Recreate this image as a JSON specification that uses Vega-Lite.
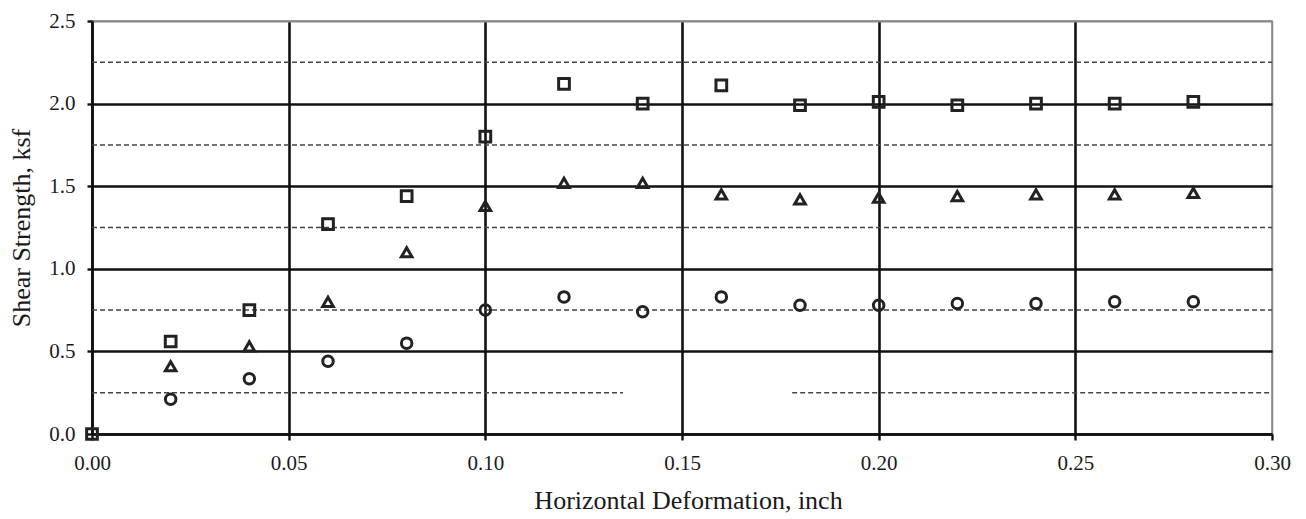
{
  "$schema": "https://vega.github.io/schema/vega-lite/v6.json",
  "width": 1180,
  "height": 413,
  "autosize": "none",
  "padding": {"left": 92, "top": 21, "right": 34, "bottom": 85},
  "background": "white",
  "config": {
    "view": {"stroke": "#888", "strokeWidth": 1.5},
    "font": "Liberation Serif"
  },
  "datasets": {
    "points": [
      {"series": "A", "x": 0.00, "y": 0.00},
      {"series": "A", "x": 0.02, "y": 0.56},
      {"series": "A", "x": 0.04, "y": 0.75},
      {"series": "A", "x": 0.06, "y": 1.27},
      {"series": "A", "x": 0.08, "y": 1.44},
      {"series": "A", "x": 0.10, "y": 1.80},
      {"series": "A", "x": 0.12, "y": 2.12},
      {"series": "A", "x": 0.14, "y": 2.00},
      {"series": "A", "x": 0.16, "y": 2.11},
      {"series": "A", "x": 0.18, "y": 1.99},
      {"series": "A", "x": 0.20, "y": 2.01},
      {"series": "A", "x": 0.22, "y": 1.99},
      {"series": "A", "x": 0.24, "y": 2.00},
      {"series": "A", "x": 0.26, "y": 2.00},
      {"series": "A", "x": 0.28, "y": 2.01},
      {"series": "B", "x": 0.02, "y": 0.41},
      {"series": "B", "x": 0.04, "y": 0.53},
      {"series": "B", "x": 0.06, "y": 0.80},
      {"series": "B", "x": 0.08, "y": 1.10},
      {"series": "B", "x": 0.10, "y": 1.38},
      {"series": "B", "x": 0.12, "y": 1.52},
      {"series": "B", "x": 0.14, "y": 1.52},
      {"series": "B", "x": 0.16, "y": 1.45},
      {"series": "B", "x": 0.18, "y": 1.42},
      {"series": "B", "x": 0.20, "y": 1.43},
      {"series": "B", "x": 0.22, "y": 1.44},
      {"series": "B", "x": 0.24, "y": 1.45},
      {"series": "B", "x": 0.26, "y": 1.45},
      {"series": "B", "x": 0.28, "y": 1.46},
      {"series": "C", "x": 0.02, "y": 0.21},
      {"series": "C", "x": 0.04, "y": 0.335},
      {"series": "C", "x": 0.06, "y": 0.44},
      {"series": "C", "x": 0.08, "y": 0.55},
      {"series": "C", "x": 0.10, "y": 0.75},
      {"series": "C", "x": 0.12, "y": 0.83},
      {"series": "C", "x": 0.14, "y": 0.74},
      {"series": "C", "x": 0.16, "y": 0.83},
      {"series": "C", "x": 0.18, "y": 0.78},
      {"series": "C", "x": 0.20, "y": 0.78},
      {"series": "C", "x": 0.22, "y": 0.79},
      {"series": "C", "x": 0.24, "y": 0.79},
      {"series": "C", "x": 0.26, "y": 0.80},
      {"series": "C", "x": 0.28, "y": 0.80}
    ],
    "minor": [
      {"y": 0.25, "x": 0, "xe": 0.135},
      {"y": 0.25, "x": 0.178, "xe": 0.3},
      {"y": 0.75, "x": 0, "xe": 0.3},
      {"y": 1.25, "x": 0, "xe": 0.3},
      {"y": 1.75, "x": 0, "xe": 0.3},
      {"y": 2.25, "x": 0, "xe": 0.3}
    ]
  },
  "encoding": {
    "x": {
      "field": "x",
      "type": "quantitative",
      "scale": {"domain": [0, 0.3], "nice": false, "zero": false},
      "axis": {
        "values": [0, 0.05, 0.1, 0.15, 0.2, 0.25, 0.3],
        "format": ".2f",
        "labelFlush": false,
        "grid": true,
        "gridColor": {"condition": {"test": "datum.value >= 0.299", "value": "#888"}, "value": "#111"},
        "gridWidth": {"condition": {"test": "datum.value >= 0.299", "value": 1.5}, "value": 2.6},
        "gridOpacity": 1,
        "domainColor": "#111",
        "domainWidth": 2.6,
        "tickColor": "#111",
        "tickWidth": 2.4,
        "tickSize": 6,
        "labelFont": "Liberation Serif",
        "labelFontSize": 21,
        "labelColor": "#1a1a1a",
        "labelPadding": 12,
        "title": "Horizontal Deformation, inch",
        "titleFont": "Liberation Serif",
        "titleFontSize": 26,
        "titleFontWeight": "normal",
        "titleColor": "#1a1a1a",
        "titlePadding": 14,
        "titleX": 596
      }
    },
    "y": {
      "field": "y",
      "type": "quantitative",
      "scale": {"domain": [0, 2.5], "nice": false},
      "axis": {
        "values": [0, 0.5, 1, 1.5, 2, 2.5],
        "format": ".1f",
        "grid": true,
        "gridColor": {"condition": {"test": "datum.value >= 2.49", "value": "#888"}, "value": "#111"},
        "gridWidth": {"condition": {"test": "datum.value >= 2.49", "value": 1.8}, "value": 2.6},
        "gridOpacity": 1,
        "domainColor": "#111",
        "domainWidth": 2.6,
        "tickColor": "#111",
        "tickWidth": 2.4,
        "tickSize": 5,
        "labelFont": "Liberation Serif",
        "labelFontSize": 21,
        "labelColor": "#1a1a1a",
        "labelPadding": 12,
        "title": "Shear Strength, ksf",
        "titleFont": "Liberation Serif",
        "titleFontSize": 26,
        "titleFontWeight": "normal",
        "titleColor": "#1a1a1a",
        "titlePadding": 14
      }
    }
  },
  "layer": [
    {
      "data": {"name": "minor"},
      "mark": {"type": "rule", "color": "#444", "strokeWidth": 1.5, "strokeDash": [5, 3]},
      "encoding": {"x2": {"field": "xe"}}
    },
    {
      "data": {"name": "points"},
      "mark": {"type": "point", "filled": false, "strokeWidth": 3, "opacity": 1, "color": "#222"},
      "encoding": {
        "shape": {
          "field": "series",
          "type": "nominal",
          "scale": {"domain": ["A", "B", "C"], "range": ["square", "triangle-up", "circle"]},
          "legend": null
        },
        "size": {
          "field": "series",
          "type": "nominal",
          "scale": {"domain": ["A", "B", "C"], "range": [115, 110, 70]},
          "legend": null
        }
      }
    }
  ]
}
